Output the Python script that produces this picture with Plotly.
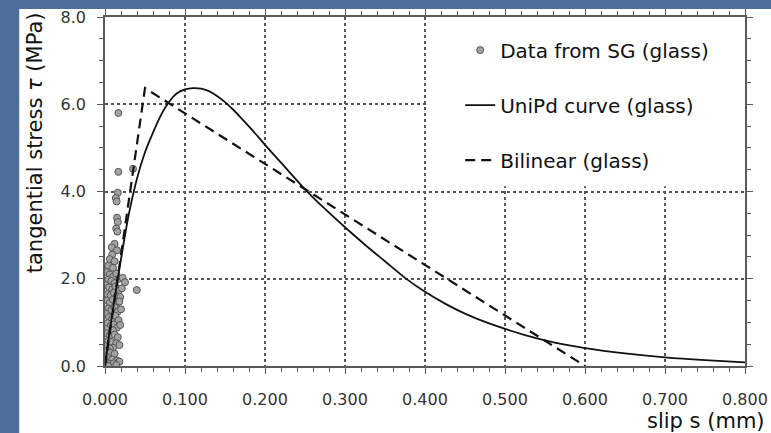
import plotly.graph_objects as go

# ---- data ----
sg_slip = [0.0167, 0.0167, 0.035, 0.016, 0.0135, 0.0146, 0.0397,
           0.015, 0.016, 0.014, 0.0155, 0.012, 0.0085, 0.015, 0.009, 0.006, 0.012, 0.004, 0.010,
           0.002, 0.006, 0.010, 0.014, 0.018, 0.022, 0.025, 0.004, 0.008, 0.012,
           0.001, 0.005, 0.009, 0.013, 0.017, 0.021, 0.003, 0.007, 0.011, 0.015, 0.019,
           0.002, 0.006, 0.010, 0.014, 0.018, 0.004, 0.008, 0.012, 0.016, 0.020, 0.001,
           0.005, 0.009, 0.013, 0.017, 0.003, 0.007, 0.011, 0.015, 0.019, 0.001, 0.010,
           0.002, 0.006, 0.012, 0.016, 0.004, 0.008, 0.014, 0.001, 0.010, 0.018, 0.006,
           0.003, 0.007, 0.012, 0.001, 0.005, 0.009, 0.015, 0.018, 0.002, 0.006, 0.011,
           0.000, 0.004, 0.014]
sg_stress = [5.80, 4.45, 4.52, 3.97, 3.85, 3.77, 1.74,
             3.40, 3.30, 3.15, 3.08, 2.80, 2.72, 2.65, 2.55, 2.45, 2.40, 2.30, 2.25,
             2.15, 2.10, 2.05, 2.12, 2.00, 2.02, 1.92, 1.98, 1.95, 1.90,
             1.85, 1.80, 1.75, 1.82, 1.72, 1.78, 1.65, 1.62, 1.68, 1.60, 1.58,
             1.50, 1.45, 1.52, 1.42, 1.48, 1.32, 1.28, 1.35, 1.25, 1.30, 1.20,
             1.12, 1.08, 1.15, 1.05, 0.98, 0.92, 0.95, 0.88, 0.94, 0.85, 0.82,
             0.75, 0.70, 0.72, 0.66, 0.58, 0.55, 0.52, 0.45, 0.42, 0.48, 0.40,
             0.35, 0.30, 0.28, 0.22, 0.18, 0.15, 0.12, 0.10, 0.08, 0.05, 0.06,
             0.02, 0.00, 0.02]

unipd_slip = [0.0, 0.005, 0.01, 0.015, 0.02, 0.025, 0.03, 0.04, 0.05, 0.06, 0.07, 0.08,
              0.09, 0.10, 0.11, 0.12, 0.13, 0.14, 0.15, 0.16, 0.17, 0.185, 0.20, 0.225,
              0.25, 0.275, 0.30, 0.325, 0.35, 0.375, 0.40, 0.425, 0.45, 0.475, 0.50,
              0.525, 0.55, 0.575, 0.60, 0.65, 0.70, 0.75, 0.80]
unipd_stress = [0.0, 0.7, 1.3, 1.9, 2.45, 3.0, 3.5, 4.3, 4.9, 5.35, 5.75, 6.05,
                6.25, 6.34, 6.37, 6.36, 6.30, 6.19, 6.05, 5.88, 5.69, 5.39, 5.07, 4.56,
                4.05, 3.60, 3.18, 2.78, 2.40, 2.02, 1.70, 1.43, 1.20, 1.01, 0.85,
                0.71, 0.59, 0.49, 0.41, 0.29, 0.20, 0.135, 0.085]

bilinear_slip = [0.0, 0.05, 0.60]
bilinear_stress = [0.0, 6.37, 0.0]

x_ticks = [0.0, 0.1, 0.2, 0.3, 0.4, 0.5, 0.6, 0.7, 0.8]
y_ticks = [0.0, 2.0, 4.0, 6.0, 8.0]

FONT = "DejaVu Sans"
BLUE = "#4e6f99"

fig = go.Figure()
fig.add_trace(go.Scatter(
    x=sg_slip, y=sg_stress, mode="markers", name="Data from SG (glass)",
    legendgroup="a",
    marker=dict(size=7, color="#a3a3a3", line=dict(color="#555555", width=1)),
))
fig.add_trace(go.Scatter(
    x=unipd_slip, y=unipd_stress, mode="lines", name="UniPd curve (glass)",
    legendgroup="b", line=dict(color="#111111", width=1.8, shape="spline", smoothing=0.8),
))
fig.add_trace(go.Scatter(
    x=bilinear_slip, y=bilinear_stress, mode="lines", name="Bilinear (glass)",
    legendgroup="c", line=dict(color="#111111", width=2.2, dash="10px,6px"),
))

axis_common = dict(
    showline=True, linecolor="#5a5a5a", linewidth=1.6, mirror="ticks",
    ticks="outside", ticklen=6, tickcolor="#5a5a5a", tickwidth=1.2,
    showgrid=True, gridcolor="#555555", griddash="dot", gridwidth=1.6,
    zeroline=False, automargin=False,
    tickfont=dict(family=FONT, size=16, color="#333333"),
)

fig.update_xaxes(
    range=[0, 0.8], tickvals=x_ticks, tickformat=".3f", ticklabelstandoff=12,
    minor=dict(dtick=0.02, tick0=0, ticks="outside", ticklen=4, tickcolor="#5a5a5a",
               showgrid=False),
    **axis_common,
)
fig.update_yaxes(
    range=[0, 8], tickvals=y_ticks, tickformat=".1f", ticklabelstandoff=8,
    minor=dict(dtick=0.5, tick0=0, ticks="outside", ticklen=4, tickcolor="#5a5a5a",
               showgrid=False),
    **axis_common,
)

fig.update_layout(
    width=771, height=433, autosize=False,
    margin=dict(l=105, r=26, t=17, b=67),
    paper_bgcolor=BLUE, plot_bgcolor="white",
    showlegend=True,
    legend=dict(x=0.555, y=0.961, xanchor="left", yanchor="top",
                bgcolor="rgba(0,0,0,0)", borderwidth=0, tracegroupgap=26,
                font=dict(family=FONT, size=20, color="#111111")),
    shapes=[
        dict(type="rect", xref="paper", yref="paper", x0=-0.134, x1=1.06,
             y0=-0.25, y1=1.023, fillcolor="white", line=dict(width=0), layer="below"),
        dict(type="rect", xref="x", yref="y", x0=0.403, x1=0.8, y0=4.12, y1=8,
             fillcolor="white", line=dict(width=0), layer="between"),
    ],
    annotations=[
        dict(text="tangential stress <i>τ</i> (MPa)", textangle=-90,
             xref="paper", yref="paper", x=-0.109, y=0.639,
             xanchor="center", yanchor="middle", showarrow=False,
             font=dict(family=FONT, size=21, color="#111111")),
        dict(text="slip s (mm)", xref="paper", yref="paper", x=1.034, y=-0.158,
             xanchor="right", yanchor="middle", showarrow=False,
             font=dict(family=FONT, size=21, color="#111111")),
    ],
)

fig.write_html(
    "out.html",
    config={"displayModeBar": False},
    post_script="document.body.style.margin='0';document.body.style.background='%s';" % BLUE,
)
